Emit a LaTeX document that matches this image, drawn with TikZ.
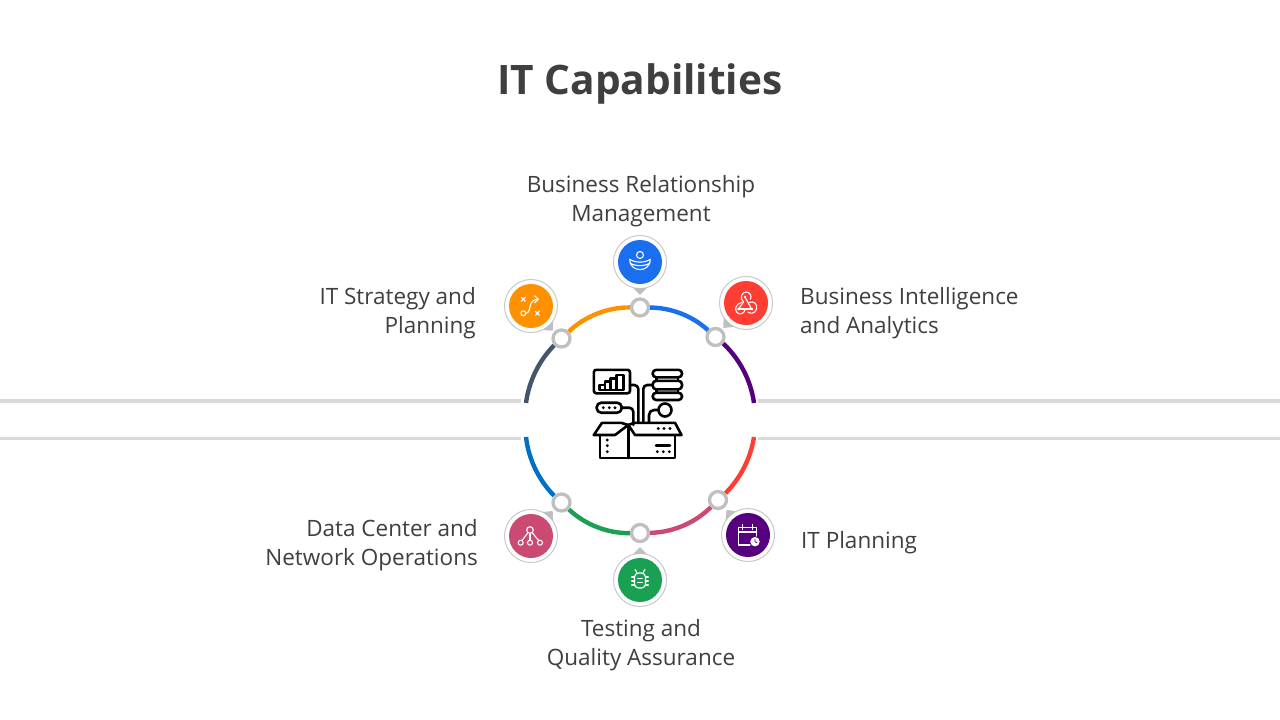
\documentclass[tikz,border=0pt]{standalone}
\usepackage{fontspec}
\setmainfont{Open Sans}
\usepackage{xcolor}
\usetikzlibrary{arrows,positioning}
\definecolor{textgray}{HTML}{3F3F3F}
\definecolor{hubgray}{HTML}{BFBFBF}
\definecolor{rimgray}{HTML}{C9C9C9}
\definecolor{linegray}{HTML}{D9D9D9}
\definecolor{cblue}{HTML}{1A6FEF}
\definecolor{corange}{HTML}{FF9000}
\definecolor{cslate}{HTML}{44546A}
\definecolor{cpurple}{HTML}{54007F}
\definecolor{cred}{HTML}{FF3D33}
\definecolor{cpink}{HTML}{CB4A72}
\definecolor{cgreen}{HTML}{19A052}
\definecolor{cdeep}{HTML}{0070C0}

\begin{document}
\begin{tikzpicture}[x=1pt, y=-1pt]
\tikzstyle{hub} = [circle, draw=hubgray, fill=white, line width=3.3pt, minimum size=17pt, inner sep=0pt]
\tikzstyle{rim} = [circle, draw=rimgray, fill=white, line width=1pt, minimum size=53pt, inner sep=0pt]
\tikzstyle{disc} = [circle, minimum size=44pt, inner sep=0pt]
\tikzstyle{ringarc} = [line width=4.4pt, looseness=.87]
\tikzstyle{bar} = [linegray, line width=3.8pt]
\tikzstyle{caption} = [text=textgray, inner sep=0pt, font=\fontsize{22.5}{29}\selectfont]
\tikzstyle{iconline} = [white, line width=1.1pt, line cap=round, line join=round]
\tikzstyle{boxline} = [black, line width=2.6pt, line cap=round, line join=round]
\useasboundingbox (0,0) rectangle (1280,720);
\fill[white] (0,0) rectangle (1280,720);

\node[text=textgray, inner sep=0pt, font=\fontsize{40.6}{48}\bfseries\selectfont] (title) at (640,84) {IT Capabilities};

\coordinate (lupa) at (0,401);
\coordinate (lupb) at (521,401);
\coordinate (ldna) at (0,438.5);
\coordinate (ldnb) at (521,438.5);
\coordinate (rupa) at (758,401);
\coordinate (rupb) at (1280,401);
\coordinate (rdna) at (758,438.5);
\coordinate (rdnb) at (1280,438.5);
\draw[bar] (lupa) -- (lupb);
\draw[bar] (ldna) -- (ldnb);
\draw[bar] (rupa) -- (rupb);
\draw[bar] (rdna) -- (rdnb);

\node[hub] (ntop) at (640,307.5) {};
\node[hub] (ntr) at (715.5,337) {};
\node[hub] (ntl) at (561.5,338.5) {};
\node[hub] (nbl) at (561.5,502.5) {};
\node[hub] (nbm) at (640,533) {};
\node[hub] (nbr) at (718,500) {};
\coordinate (lup) at (526,403);
\coordinate (ldn) at (526,437);
\coordinate (rup) at (754,403);
\coordinate (rdn) at (754,437);
\draw[ringarc, corange] (ntop) to [bend right=22] (ntl);
\draw[ringarc, cslate] (ntl) to [bend right=18.5] (lup);
\draw[ringarc, cblue] (ntop) to [bend left=21] (ntr);
\draw[ringarc, cpurple] (ntr) to [bend left=19.5] (rup);
\draw[ringarc, cpink] (nbm) to [bend right=22] (nbr);
\draw[ringarc, cred] (nbr) to [bend right=18] (rdn);
\draw[ringarc, cgreen] (nbm) to [bend left=22] (nbl);
\draw[ringarc, cdeep] (nbl) to [bend left=19] (ldn);

\node[rim] (itop) at (640,262) {};
\node[rim] (itr) at (746,303) {};
\node[rim] (itl) at (531,306) {};
\node[rim] (ibl) at (531,536) {};
\node[rim] (ibm) at (640,580) {};
\node[rim] (ibr) at (748,535) {};
\coordinate (ptop) at (640,295);
\coordinate (ptr) at (723.3,328);
\coordinate (ptl) at (552.7,330.7);
\coordinate (pbl) at (552.7,511);
\coordinate (pbm) at (640,547);
\coordinate (pbr) at (726.7,510);
\fill[hubgray] (itop.-76) -- (ptop) -- (itop.-104) -- cycle;
\fill[hubgray] (itr.-118) -- (ptr) -- (itr.-146) -- cycle;
\fill[hubgray] (itl.-35) -- (ptl) -- (itl.-63) -- cycle;
\fill[hubgray] (ibl.35) -- (pbl) -- (ibl.63) -- cycle;
\fill[hubgray] (ibm.76) -- (pbm) -- (ibm.104) -- cycle;
\fill[hubgray] (ibr.118) -- (pbr) -- (ibr.146) -- cycle;
\node[disc, fill=cblue] (dtop) at (itop) {};
\node[disc, fill=cred] (dtr) at (itr) {};
\node[disc, fill=corange] (dtl) at (itl) {};
\node[disc, fill=cpink] (dbl) at (ibl) {};
\node[disc, fill=cgreen] (dbm) at (ibm) {};
\node[disc, fill=cpurple] (dbr) at (ibr) {};

\begin{scope}[shift={(itop)}, iconline]
\draw (0,-7) circle (3.5pt);
\draw (-10.3,-2.7) .. controls (-5,1) and (5,1) .. (10.3,-2.7);
\draw (-10,1) .. controls (-5,4.5) and (5,4.5) .. (10,1);
\draw (-10.3,-2.7) .. controls (-10.5,11) and (10.5,11) .. (10.3,-2.7);
\end{scope}
\begin{scope}[shift={(itl)}, iconline]
\draw (-9.7,-8.7) -- (-5.7,-4.7) (-5.7,-8.7) -- (-9.7,-4.7);
\draw (4.3,5.3) -- (8.3,9.3) (8.3,5.3) -- (4.3,9.3);
\draw (-7.7,7.3) circle (2.5pt);
\draw (-5.2,7.3) .. controls (1,7.3) and (-4,-6.7) .. (7,-6.7);
\draw (3.5,-10.2) -- (7.5,-6.7) -- (3.5,-3.2);
\end{scope}
\begin{scope}[shift={(itr)}, iconline]
\draw (-2.5,-1) .. controls (-7,-5) and (-4,-11) .. (0,-11) .. controls (4,-11) and (6,-7) .. (4.5,-4);
\draw (-1,-6) -- (5,5);
\draw (-7.5,6) -- (-2.5,-1);
\draw (-7.5,6) -- (6,6);
\draw (-4.5,-0.5) .. controls (-10,1) and (-12,6) .. (-9,9.5) .. controls (-7,12) and (-2,11) .. (-1,7);
\draw (3,-0.5) .. controls (8,-3) and (12,2) .. (10.5,6) .. controls (9,11) and (4,11) .. (2,9);
\fill[white] (-1,-6) circle (1.3pt) (-7.5,6) circle (1.3pt) (6,6) circle (1.3pt);
\end{scope}
\begin{scope}[shift={(ibr)}, iconline]
\draw (2,10) -- (-9.7,10) -- (-9.7,-7.3) -- (8.7,-7.3) -- (8.7,1);
\draw (-9.7,-3) -- (8.7,-3);
\draw (-5.6,-10.7) -- (-5.6,-5.5) (4.7,-10.7) -- (4.7,-5.5);
\fill[white] (7,6.7) circle (4.7pt);
\draw[cpurple, line width=.8pt] (7,4) -- (7,6.7) -- (9,7.7);
\end{scope}
\begin{scope}[shift={(ibm)}, iconline]
\draw[rounded corners=4pt] (-5.5,-7) rectangle (5.5,8);
\draw (-2.3,-1.7) -- (2.3,-1.7) (-2.3,2.5) -- (2.3,2.5);
\draw (-3,-7) -- (-5,-10.7) (3,-7) -- (5,-10.7);
\draw (-8.3,-3) -- (-5.5,-3) (-8.3,1) -- (-5.5,1) (-8.3,5) -- (-5.5,5);
\draw (8.3,-3) -- (5.5,-3) (8.3,1) -- (5.5,1) (8.3,5) -- (5.5,5);
\end{scope}
\begin{scope}[shift={(ibl)}, iconline]
\draw (-1,-6) circle (3.3pt);
\draw (-10.3,6.7) circle (2.5pt) (-1,6.7) circle (2.5pt) (9,6.7) circle (2.5pt);
\draw (-1,-2.7) -- (-1,4.2);
\draw (-3,-3.5) -- (-9,4.5);
\draw (1,-3.5) -- (7.7,4.5);
\end{scope}

\begin{scope}[boxline]
\draw[rounded corners=2.5pt] (593.8,369.8) rectangle (630,393.3);
\draw (599.5,390) rectangle (605,385);
\draw (605,390) rectangle (610.7,381.7);
\draw (610.7,390) rectangle (616.7,378.3);
\draw (616.7,390) rectangle (623.3,375);
\draw[rounded corners=3.5pt] (652.7,369.8) rectangle (682,377.3);
\draw[rounded corners=3.5pt] (652.7,380.8) rectangle (682,389.3);
\draw[rounded corners=3.5pt] (652.7,392.7) rectangle (682,400);
\draw (656.7,377.3) -- (656.7,380.8) (677.8,377.3) -- (677.8,380.8);
\draw (656.7,389.3) -- (656.7,392.7) (677.8,389.3) -- (677.8,392.7);
\draw[rounded corners=4pt] (630,385) -- (638.3,385) -- (638.3,422);
\draw[rounded corners=4pt] (652.7,385) -- (643.3,385) -- (643.3,422);
\draw[rounded corners=4pt] (621.7,407.7) -- (633.3,407.7) -- (633.3,425);
\draw[rounded corners=5pt] (658.5,410) -- (649,410) -- (649,422);
\draw[rounded corners=4.5pt] (596.7,402.7) rectangle (621.7,412.7);
\draw (665,410) circle (6.5pt);
\draw (600,435) -- (600,458) -- (675,458) -- (675,435);
\draw (628.3,425) -- (628.3,458);
\draw (593.8,435) -- (602,422.8) -- (621,422.8) -- (628.3,425) -- (615,435) -- cycle;
\draw (628.3,425) -- (635,435) -- (681.5,435) -- (675,422.8) -- (634,422.8) -- cycle;
\draw (656,445.7) -- (670,445.7);
\fill (603.3,407.7) circle (1.6pt) (609.3,407.7) circle (1.6pt) (615,407.7) circle (1.6pt);
\fill (607.3,440) circle (1.6pt) (607.3,445.7) circle (1.6pt) (607.3,451.7) circle (1.6pt);
\fill (658.3,428.5) circle (1.6pt) (664,428.5) circle (1.6pt) (670,428.5) circle (1.6pt);
\fill (657.3,451.7) circle (1.6pt) (663.3,451.7) circle (1.6pt) (669.3,451.7) circle (1.6pt);
\end{scope}

\node[caption, align=center] (ltop) at (641,201) {Business Relationship\\Management};
\node[caption, align=left, anchor=west] (ltr) at (800,313) {Business Intelligence\\and Analytics};
\node[caption, align=right, anchor=east] (ltl) at (476,313) {IT Strategy and\\Planning};
\node[caption, align=right, anchor=east] (lbl) at (478,545) {Data Center and\\Network Operations};
\node[caption, anchor=west] (lbr) at (801,543) {IT Planning};
\node[caption, align=center] (lbm) at (641,645) {Testing and\\Quality Assurance};
\end{tikzpicture}
\end{document}
